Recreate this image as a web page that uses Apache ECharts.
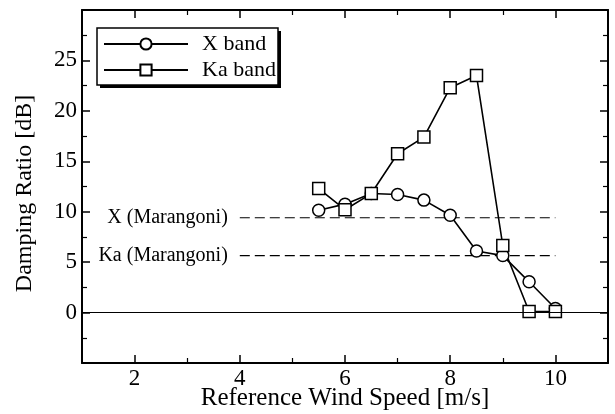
<!DOCTYPE html>
<html><head><meta charset="utf-8">
<script src="https://cdn.jsdelivr.net/npm/echarts@6/dist/echarts.min.js"></script>
<style>html,body{margin:0;padding:0;background:#fff}#c{width:615px;height:414px}</style>
</head><body><div id="c"></div>
<script>
const windSpeed = [5.5, 6, 6.5, 7, 7.5, 8, 8.5, 9, 9.5, 10];
const xBand  = [10.15, 10.75, 11.8, 11.7, 11.15, 9.65, 6.1, 5.65, 3.05, 0.4];
const kaBand = [12.3, 10.2, 11.8, 15.75, 17.4, 22.3, 23.5, 6.65, 0.1, 0.1];
const marangoniX = 9.4;
const marangoniKa = 5.65;
const marangoniRange = [4, 10];
const seriesNames = ['X band', 'Ka band'];
const marangoniNames = ['X (Marangoni)', 'Ka (Marangoni)'];
const xTicks = [2, 4, 6, 8, 10];
const xMinorTicks = [3, 5, 7, 9];
const yTicks = [0, 5, 10, 15, 20, 25];

const FONT = 'Liberation Serif';
const chart = echarts.init(document.getElementById('c'), null, {renderer: 'canvas'});
const pair = ys => windSpeed.map((x, i) => [x, ys[i]]);
const dashed = (name, y) => ({
  name, type: 'line', silent: true,
  data: [
    {value: [marangoniRange[0], y], label: {show: true, position: 'left', distance: 12,
      formatter: name, color: '#000', fontFamily: FONT, fontSize: 20}},
    {value: [marangoniRange[1], y]}
  ],
  symbol: 'circle', symbolSize: 0.01, showSymbol: true,
  lineStyle: {color: '#000', width: 1.2, type: [10, 5]},
  z: 1
});
const common = {
  type: 'line', symbolSize: 12,
  itemStyle: {color: '#fff', borderColor: '#000', borderWidth: 1.5},
  lineStyle: {color: '#000', width: 1.6}, z: 3
};
const ax = {min: 1, max: 11, interval: 1};
const ay = {min: -5, max: 30, interval: 5};
const xAx = (position, major, withLine, extra) => Object.assign({
  type: 'value', ...ax, position,
  axisLine: {show: withLine, onZero: false, lineStyle: {color: '#000', width: 2}},
  axisTick: {show: true, inside: true, length: major ? 8 : 5,
    customValues: major ? xTicks : xMinorTicks,
    lineStyle: {color: '#000', width: major ? 1.5 : 1.2}},
  axisLabel: {show: false},
  splitLine: {show: false}
}, extra || {});
const yAx = (position, extra) => Object.assign({
  type: 'value', ...ay, position,
  axisLine: {show: true, onZero: false, lineStyle: {color: '#000', width: 2}},
  axisTick: {show: true, inside: true, length: 8, lineStyle: {color: '#000', width: 1.5}},
  minorTick: {show: true, splitNumber: 2, length: 5, lineStyle: {color: '#000', width: 1.2}},
  axisLabel: {show: false},
  splitLine: {show: false}
}, extra || {});
chart.setOption({
  animation: false,
  backgroundColor: '#fff',
  grid: {left: 82, right: 7, top: 10, bottom: 51, containLabel: false, outerBoundsMode: 'none'},
  graphic: [
    {type: 'rect', z: 3, shape: {x: 100, y: 31, width: 181, height: 57}, style: {fill: '#000'}},
    {type: 'rect', z: 4, shape: {x: 97, y: 28, width: 181, height: 57},
      style: {fill: '#fff', stroke: '#000', lineWidth: 1.5}}
  ],
  legend: {
    data: seriesNames, orient: 'vertical', left: 97, top: 28, z: 10,
    itemWidth: 84, itemHeight: 14, itemGap: 4,
    padding: [5, 4, 4, 6],
    textStyle: {color: '#000', fontFamily: FONT, fontSize: 22, padding: [0, 0, 0, 9]}
  },
  xAxis: [
    xAx('bottom', true, true, {
      name: 'Reference Wind Speed [m/s]', nameLocation: 'middle', nameGap: 23,
      nameMoveOverlap: false,
      nameTextStyle: {color: '#000', fontFamily: FONT, fontSize: 25},
      axisLabel: {show: true, margin: 4, color: '#000', fontFamily: FONT, fontSize: 23,
        customValues: xTicks}
    }),
    xAx('bottom', false, false),
    xAx('top', true, true),
    xAx('top', false, false)
  ],
  yAxis: [
    yAx('left', {
      name: 'Damping Ratio [dB]', nameLocation: 'middle', nameGap: 45,
      nameMoveOverlap: false,
      nameTextStyle: {color: '#000', fontFamily: FONT, fontSize: 24, padding: [0, 14, 0, 0]},
      axisLabel: {show: true, margin: 5, color: '#000', fontFamily: FONT, fontSize: 23,
        formatter: v => yTicks.includes(v) ? String(v) : ''}
    }),
    yAx('right')
  ],
  series: [
    {
      name: 'zero', type: 'line', silent: true, data: [], z: 1,
      markLine: {silent: true, symbol: 'none', label: {show: false},
        lineStyle: {color: '#000', width: 1.2, type: 'solid'},
        data: [{yAxis: 0}]}
    },
    dashed(marangoniNames[0], marangoniX),
    dashed(marangoniNames[1], marangoniKa),
    {...common, name: seriesNames[0], symbol: 'circle', data: pair(xBand)},
    {...common, name: seriesNames[1], symbol: 'rect', data: pair(kaBand)}
  ]
});
</script></body></html>
